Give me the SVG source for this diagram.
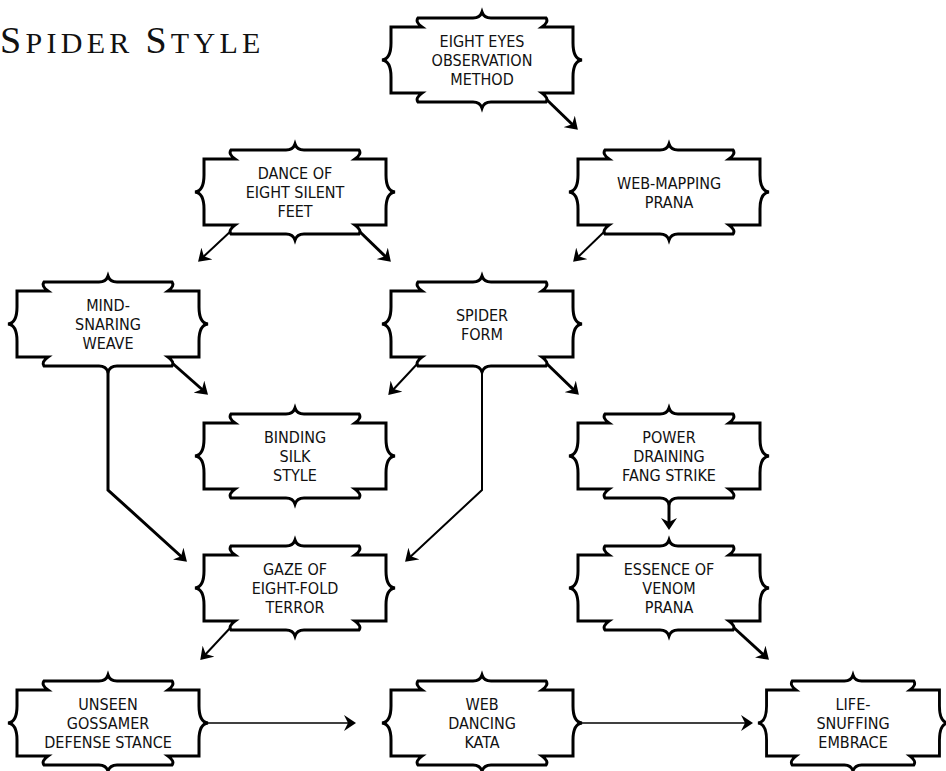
<svg xmlns="http://www.w3.org/2000/svg" xmlns:xlink="http://www.w3.org/1999/xlink" width="946" height="771" viewBox="0 0 946 771">
<style>
.shape{fill:#fff;stroke:#000;stroke-width:3;stroke-linejoin:miter}
.lbl{font-family:"DejaVu Sans Condensed","Liberation Sans Narrow","Liberation Sans",sans-serif;font-stretch:condensed;font-size:16px;fill:#111;text-anchor:middle}
.title{font-family:"Liberation Serif",serif;fill:#111;letter-spacing:4.3px}
.c{fill:none;stroke:#000}
.thick{stroke-width:3}
.thin{stroke-width:2}
.hair{stroke-width:1.5}
</style>
<defs>
<path id="nd" class="shape" d="M-91,-33 L-60,-33 Q-67,-38 -64,-42 L-9,-42 Q-2,-42 0,-48 Q2,-42 9,-42 L64,-42 Q67,-38 60,-33 L91,-33 L91,-17 Q91,-1 100,0 Q91,1 91,17 L91,33 L60,33 Q67,38 64,42 L9,42 Q2,42 0,48 Q-2,42 -9,42 L-64,42 Q-67,38 -60,33 L-91,33 L-91,17 Q-91,1 -100,0 Q-91,-1 -91,-17 Z"/>
<marker id="ah" viewBox="0 0 12 16" markerWidth="12" markerHeight="16" refX="8" refY="8" orient="auto" markerUnits="userSpaceOnUse">
<path d="M0,0 L12,8 L0,16 L4,8 Z" fill="#000"/>
</marker>
</defs>
<rect width="946" height="771" fill="#fff"/>
<text class="title" x="0" y="53"><tspan font-size="38">S</tspan><tspan font-size="30">PIDER </tspan><tspan font-size="38">S</tspan><tspan font-size="30">TYLE</tspan></text>
<g id="connectors" marker-end="url(#ah)">
<path class="c thick" d="M545,98 L575,127"/>
<path class="c thin" d="M232,230 L201,259"/>
<path class="c thick" d="M358,230 L388,259"/>
<path class="c thin" d="M606,230 L576,259"/>
<path class="c thick" d="M171,362 L205,392"/>
<path class="c thin" d="M419,362 L391,392"/>
<path class="c thick" d="M545,362 L576,392"/>
<path class="c thin" d="M232,626 L203,657"/>
<path class="c thick" d="M732,626 L766,657"/>
<path class="c thick" d="M108,372 L108,490 L184,559"/>
<path class="c thin" d="M482,372 L482,490 L408,559"/>
<path class="c thick" d="M669,504 L669,526"/>
<path class="c hair" d="M208,723 L352,723"/>
<path class="c hair" d="M582,723 L749,723"/>
</g>
<g id="eight-eyes" transform="translate(482,60)"><use xlink:href="#nd" href="#nd"/><text class="lbl"><tspan x="0" y="-13">EIGHT EYES</tspan><tspan x="0" y="6">OBSERVATION</tspan><tspan x="0" y="25">METHOD</tspan></text></g>
<g id="dance" transform="translate(295,192)"><use xlink:href="#nd" href="#nd"/><text class="lbl"><tspan x="0" y="-13">DANCE OF</tspan><tspan x="0" y="6">EIGHT SILENT</tspan><tspan x="0" y="25">FEET</tspan></text></g>
<g id="web-mapping" transform="translate(669,192)"><use xlink:href="#nd" href="#nd"/><text class="lbl"><tspan x="0" y="-3">WEB-MAPPING</tspan><tspan x="0" y="16">PRANA</tspan></text></g>
<g id="mind-snaring" transform="translate(108,324)"><use xlink:href="#nd" href="#nd"/><text class="lbl"><tspan x="0" y="-13">MIND-</tspan><tspan x="0" y="6">SNARING</tspan><tspan x="0" y="25">WEAVE</tspan></text></g>
<g id="spider-form" transform="translate(482,324)"><use xlink:href="#nd" href="#nd"/><text class="lbl"><tspan x="0" y="-3">SPIDER</tspan><tspan x="0" y="16">FORM</tspan></text></g>
<g id="binding" transform="translate(295,456)"><use xlink:href="#nd" href="#nd"/><text class="lbl"><tspan x="0" y="-13">BINDING</tspan><tspan x="0" y="6">SILK</tspan><tspan x="0" y="25">STYLE</tspan></text></g>
<g id="power" transform="translate(669,456)"><use xlink:href="#nd" href="#nd"/><text class="lbl"><tspan x="0" y="-13">POWER</tspan><tspan x="0" y="6">DRAINING</tspan><tspan x="0" y="25">FANG STRIKE</tspan></text></g>
<g id="gaze" transform="translate(295,588)"><use xlink:href="#nd" href="#nd"/><text class="lbl"><tspan x="0" y="-13">GAZE OF</tspan><tspan x="0" y="6">EIGHT-FOLD</tspan><tspan x="0" y="25">TERROR</tspan></text></g>
<g id="essence" transform="translate(669,588)"><use xlink:href="#nd" href="#nd"/><text class="lbl"><tspan x="0" y="-13">ESSENCE OF</tspan><tspan x="0" y="6">VENOM</tspan><tspan x="0" y="25">PRANA</tspan></text></g>
<g id="unseen" transform="translate(108,723)"><use xlink:href="#nd" href="#nd"/><text class="lbl"><tspan x="0" y="-13">UNSEEN</tspan><tspan x="0" y="6">GOSSAMER</tspan><tspan x="0" y="25">DEFENSE STANCE</tspan></text></g>
<g id="web-dancing" transform="translate(482,723)"><use xlink:href="#nd" href="#nd"/><text class="lbl"><tspan x="0" y="-13">WEB</tspan><tspan x="0" y="6">DANCING</tspan><tspan x="0" y="25">KATA</tspan></text></g>
<g id="life-snuffing" transform="translate(853,723)"><use xlink:href="#nd" href="#nd" transform="scale(0.95,1)"/><text class="lbl"><tspan x="0" y="-13">LIFE-</tspan><tspan x="0" y="6">SNUFFING</tspan><tspan x="0" y="25">EMBRACE</tspan></text></g>
</svg>
